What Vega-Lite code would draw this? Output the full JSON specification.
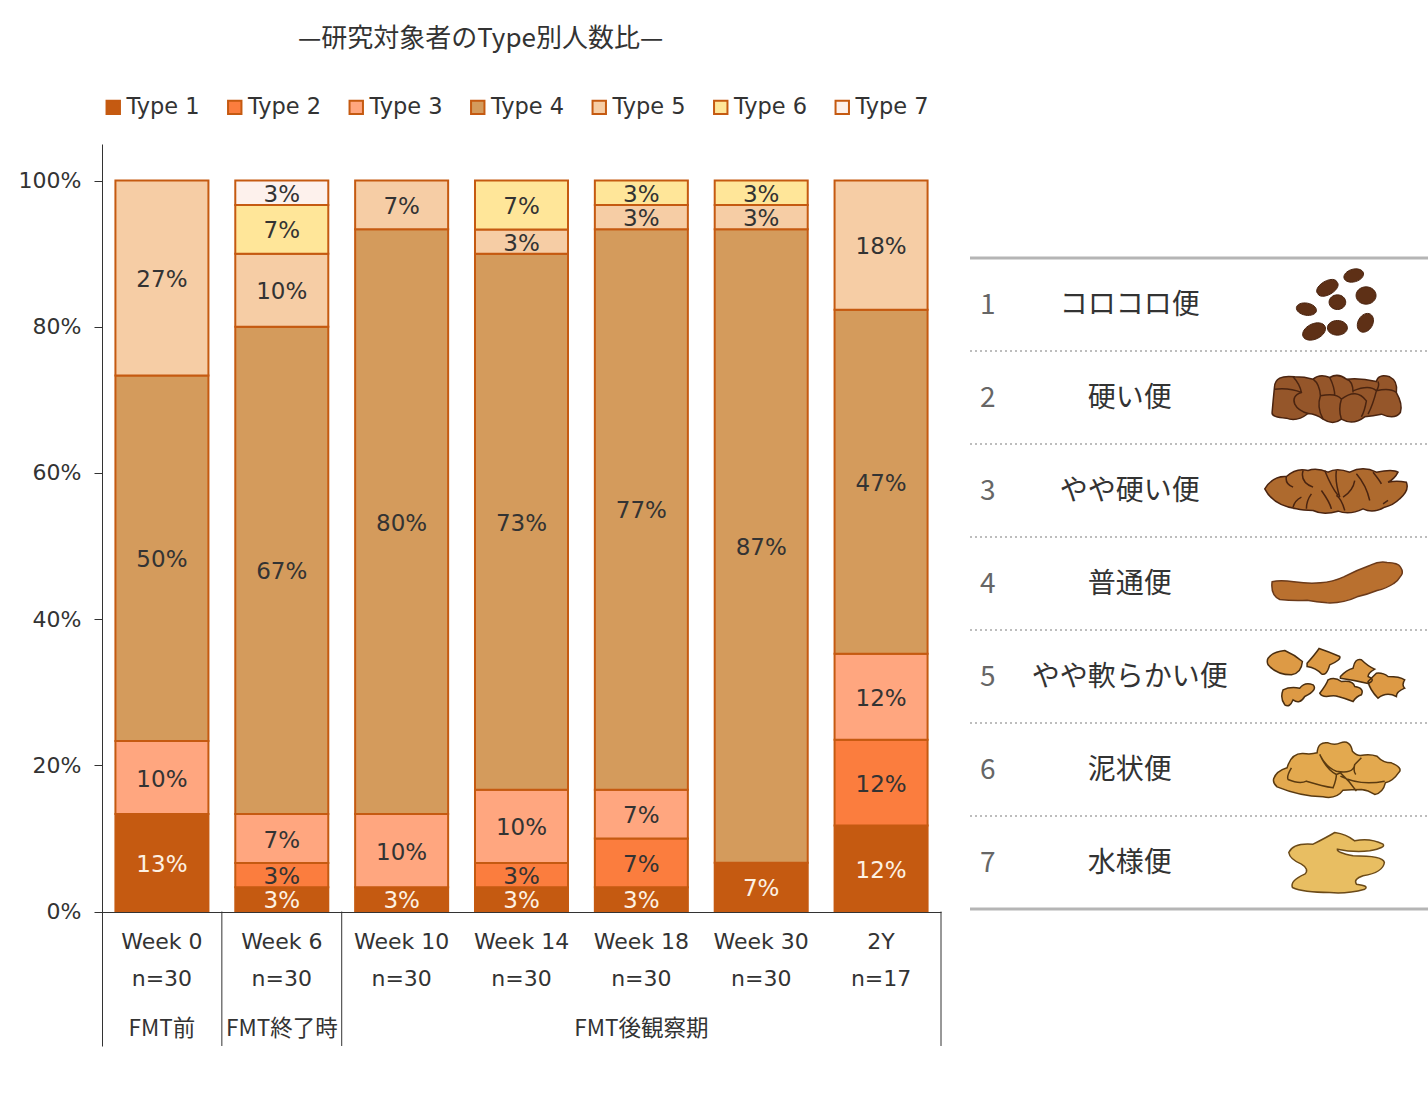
{
  "$schema": "https://vega.github.io/schema/vega-lite/v6.json",
  "width": 1326,
  "height": 953,
  "autosize": {"type": "none"},
  "padding": {"left": 102, "top": 144, "right": 0, "bottom": 0},
  "background": "white",
  "title": {
    "text": "—研究対象者のType別人数比—",
    "anchor": "start",
    "frame": "group",
    "dx": 196,
    "offset": 44,
    "font": "Noto Sans CJK JP",
    "fontSize": 26,
    "fontWeight": "normal",
    "color": "#333333"
  },
  "config": {"view": {"stroke": null}},
  "datasets": {
    "shares": [
      {"period": "Week 0", "type": "Type 1", "share": 0.1333},
      {"period": "Week 0", "type": "Type 3", "share": 0.1},
      {"period": "Week 0", "type": "Type 4", "share": 0.5},
      {"period": "Week 0", "type": "Type 5", "share": 0.2667},
      {"period": "Week 6", "type": "Type 1", "share": 0.0333},
      {"period": "Week 6", "type": "Type 2", "share": 0.0333},
      {"period": "Week 6", "type": "Type 3", "share": 0.0667},
      {"period": "Week 6", "type": "Type 4", "share": 0.6667},
      {"period": "Week 6", "type": "Type 5", "share": 0.1},
      {"period": "Week 6", "type": "Type 6", "share": 0.0667},
      {"period": "Week 6", "type": "Type 7", "share": 0.0333},
      {"period": "Week 10", "type": "Type 1", "share": 0.0333},
      {"period": "Week 10", "type": "Type 3", "share": 0.1},
      {"period": "Week 10", "type": "Type 4", "share": 0.8},
      {"period": "Week 10", "type": "Type 5", "share": 0.0667},
      {"period": "Week 14", "type": "Type 1", "share": 0.0333},
      {"period": "Week 14", "type": "Type 2", "share": 0.0333},
      {"period": "Week 14", "type": "Type 3", "share": 0.1},
      {"period": "Week 14", "type": "Type 4", "share": 0.7333},
      {"period": "Week 14", "type": "Type 5", "share": 0.0333},
      {"period": "Week 14", "type": "Type 6", "share": 0.0667},
      {"period": "Week 18", "type": "Type 1", "share": 0.0333},
      {"period": "Week 18", "type": "Type 2", "share": 0.0667},
      {"period": "Week 18", "type": "Type 3", "share": 0.0667},
      {"period": "Week 18", "type": "Type 4", "share": 0.7667},
      {"period": "Week 18", "type": "Type 5", "share": 0.0333},
      {"period": "Week 18", "type": "Type 6", "share": 0.0333},
      {"period": "Week 30", "type": "Type 1", "share": 0.0667},
      {"period": "Week 30", "type": "Type 4", "share": 0.8667},
      {"period": "Week 30", "type": "Type 5", "share": 0.0333},
      {"period": "Week 30", "type": "Type 6", "share": 0.0333},
      {"period": "2Y", "type": "Type 1", "share": 0.1176},
      {"period": "2Y", "type": "Type 2", "share": 0.1176},
      {"period": "2Y", "type": "Type 3", "share": 0.1176},
      {"period": "2Y", "type": "Type 4", "share": 0.4706},
      {"period": "2Y", "type": "Type 5", "share": 0.1765}
    ],
    "periods": [
      {"period": "Week 0", "n": "n=30"},
      {"period": "Week 6", "n": "n=30"},
      {"period": "Week 10", "n": "n=30"},
      {"period": "Week 14", "n": "n=30"},
      {"period": "Week 18", "n": "n=30"},
      {"period": "Week 30", "n": "n=30"},
      {"period": "2Y", "n": "n=17"}
    ],
    "phases": [
      {"period": "Week 0", "phase": "FMT前"},
      {"period": "Week 6", "phase": "FMT終了時"},
      {"period": "Week 18", "phase": "FMT後観察期"}
    ],
    "phaseEnds": [
      {"period": "Week 0"},
      {"period": "Week 6"},
      {"period": "2Y"}
    ],
    "stools": [
      {"no": "1", "name": "コロコロ便"},
      {"no": "2", "name": "硬い便"},
      {"no": "3", "name": "やや硬い便"},
      {"no": "4", "name": "普通便"},
      {"no": "5", "name": "やや軟らかい便"},
      {"no": "6", "name": "泥状便"},
      {"no": "7", "name": "水様便"}
    ]
  },
  "layer": [
    {
      "encoding": {
        "x": {
          "field": "period",
          "type": "nominal",
          "scale": {
            "type": "band",
            "domain": ["Week 0", "Week 6", "Week 10", "Week 14", "Week 18", "Week 30", "2Y"],
            "range": [0, 839],
            "paddingInner": 0.224,
            "paddingOuter": 0.112
          },
          "axis": {"labels": false, "ticks": false, "title": null, "domainColor": "#333333", "offset": -185, "zindex": 1}
        }
      },
      "layer": [
        {
          "data": {"name": "shares"},
          "mark": {"type": "bar", "stroke": "#C55A11", "strokeWidth": 2},
          "encoding": {
            "y": {
              "field": "share",
              "type": "quantitative",
              "stack": "zero",
              "scale": {"domain": [-0.1839, 1.05], "range": [902, 0], "nice": false, "zero": false},
              "axis": {
                "values": [0, 0.2, 0.4, 0.6, 0.8, 1],
                "format": ".0%",
                "grid": false,
                "title": null,
                "tickSize": 8,
                "labelPadding": 13,
                "domainColor": "#333333",
                "tickColor": "#333333",
                "labelFont": "DejaVu Sans",
                "labelFontSize": 22,
                "labelColor": "#333333"
              }
            },
            "color": {
              "field": "type",
              "type": "nominal",
              "scale": {
                "domain": ["Type 1", "Type 2", "Type 3", "Type 4", "Type 5", "Type 6", "Type 7"],
                "range": ["#C55A11", "#FB7D3E", "#FFA67F", "#D49B5C", "#F6CDA5", "#FFE699", "#FDF1EC"]
              },
              "legend": {
                "title": null,
                "orient": "none",
                "direction": "horizontal",
                "columns": 7,
                "legendX": 0,
                "legendY": -48,
                "columnPadding": 23.5,
                "symbolType": "square",
                "symbolSize": 180,
                "symbolStrokeColor": "#C55A11",
                "symbolStrokeWidth": 2,
                "labelOffset": 2,
                "labelFont": "DejaVu Sans",
                "labelFontSize": 22.5,
                "labelColor": "#333333"
              }
            },
            "order": {"field": "type", "sort": "ascending"}
          }
        },
        {
          "data": {"name": "shares"},
          "mark": {"type": "text", "font": "DejaVu Sans", "fontSize": 23, "dy": 2},
          "encoding": {
            "y": {"field": "share", "type": "quantitative", "stack": "zero", "bandPosition": 0.5},
            "text": {"field": "share", "type": "quantitative", "format": ".0%"},
            "order": {"field": "type", "sort": "ascending"},
            "color": {"condition": {"test": "datum.type == 'Type 1'", "value": "#FDF1E3"}, "value": "#333333"}
          }
        },
        {
          "data": {"name": "periods"},
          "mark": {"type": "text", "font": "DejaVu Sans", "fontSize": 22, "color": "#333333"},
          "encoding": {
            "y": {"datum": -0.041, "type": "quantitative"},
            "text": {"field": "period"}
          }
        },
        {
          "data": {"name": "periods"},
          "mark": {"type": "text", "font": "DejaVu Sans", "fontSize": 22, "color": "#333333"},
          "encoding": {
            "y": {"datum": -0.0917, "type": "quantitative"},
            "text": {"field": "n"}
          }
        },
        {
          "data": {"name": "phases"},
          "mark": {"type": "text", "font": "Noto Sans CJK JP", "fontSize": 22.5, "color": "#333333"},
          "encoding": {
            "y": {"datum": -0.16, "type": "quantitative"},
            "text": {"field": "phase"}
          }
        },
        {
          "data": {"name": "phaseEnds"},
          "mark": {"type": "rule", "xOffset": 59.93, "color": "#333333", "strokeWidth": 1},
          "encoding": {
            "y": {"datum": 0, "type": "quantitative"},
            "y2": {"datum": -0.1839}
          }
        }
      ]
    },
    {
      "data": {"name": "stools"},
      "encoding": {
        "y": {
          "field": "no",
          "type": "nominal",
          "scale": {"type": "band", "domain": ["1", "2", "3", "4", "5", "6", "7"], "range": [114, 765], "paddingInner": 0, "paddingOuter": 0},
          "axis": null
        },
        "x": {"datum": 0.8, "type": "quantitative", "scale": {"domain": [0, 1], "range": [868, 1326], "nice": false, "zero": false}, "axis": null}
      },
      "layer": [
        {
          "transform": [{"filter": "datum.no != '1'"}],
          "mark": {"type": "rule", "color": "#BDBDBD", "strokeWidth": 2, "strokeDash": [2, 3]},
          "encoding": {
            "y": {"field": "no", "type": "nominal", "bandPosition": 0},
            "x": {"datum": 0, "type": "quantitative"},
            "x2": {"datum": 1}
          }
        },
        {
          "transform": [{"filter": "datum.no == '1'"}],
          "mark": {"type": "rule", "color": "#B5B5B5", "strokeWidth": 3},
          "encoding": {
            "y": {"field": "no", "type": "nominal", "bandPosition": 0},
            "x": {"datum": 0, "type": "quantitative"},
            "x2": {"datum": 1}
          }
        },
        {
          "transform": [{"filter": "datum.no == '7'"}],
          "mark": {"type": "rule", "color": "#B5B5B5", "strokeWidth": 3},
          "encoding": {
            "y": {"field": "no", "type": "nominal", "bandPosition": 1},
            "x": {"datum": 0, "type": "quantitative"},
            "x2": {"datum": 1}
          }
        },
        {
          "mark": {"type": "text", "font": "Noto Sans CJK JP", "fontSize": 28, "color": "#666666", "dy": 1},
          "encoding": {
            "x": {"datum": 0.039, "type": "quantitative"},
            "text": {"field": "no"}
          }
        },
        {
          "mark": {"type": "text", "font": "Noto Sans CJK JP", "fontSize": 28, "color": "#333333", "dy": 1},
          "encoding": {
            "x": {"datum": 0.349, "type": "quantitative"},
            "text": {"field": "name"}
          }
        },
        {
          "transform": [{"filter": "datum.no == '1'"}],
          "mark": {
            "type": "point", "filled": true, "opacity": 1, "size": 0.444,
            "fill": "#5E3016", "stroke": "#4A2410", "strokeWidth": 1,
            "shape": "M23 -79A30 19 -15 1 1 81 -95A30 19 -15 1 1 23 -79ZM-56 -33A34 18 -30 1 1 2 -67A34 18 -30 1 1 -56 -33ZM59 -27A30 26 0 1 1 119 -27A30 26 0 1 1 59 -27ZM-22 -7A25 22 0 1 1 28 -7A25 22 0 1 1 -22 -7ZM-120 9A30 18 10 1 1 -60 19A30 18 10 1 1 -120 9ZM72 81A30 22 -60 1 1 102 29A30 22 -60 1 1 72 81ZM-27 70A30 22 0 1 1 33 70A30 22 0 1 1 -27 70ZM-100 96A36 23 -25 1 1 -34 66A36 23 -25 1 1 -100 96Z"
          }
        },
        {
          "transform": [{"filter": "datum.no == '2'"}],
          "mark": {
            "type": "point", "filled": true, "opacity": 1, "size": 0.444,
            "fill": "#95562A", "stroke": "#4A2410", "strokeWidth": 1.5,
            "shape": "M-186 -30Q-185 -70 -125 -62Q-95 -62 -70 -55Q-50 -72 -20 -60Q5 -75 30 -55Q70 -60 120 -48Q125 -72 160 -62Q185 -50 180 -15Q200 20 192 45Q175 68 135 50Q110 55 85 58Q50 85 15 65Q-10 85 -40 65Q-60 50 -85 48Q-120 75 -150 62Q-195 60 -193 45Q-190 10 -186 -30Z"
          }
        },
        {
          "transform": [{"filter": "datum.no == '2'"}],
          "mark": {
            "type": "point", "filled": false, "opacity": 1, "size": 0.444,
            "stroke": "#4A2410", "strokeWidth": 1.5,
            "shape": "M-186 -25Q-140 -30 -105 -15M-130 -62Q-110 -40 -105 -15Q-135 -5 -125 20Q-115 40 -85 48M-70 -55Q-50 -40 -48 -5M-48 -5Q-60 30 -40 65M-48 -5Q0 -15 15 5Q5 35 15 65M15 5Q60 -30 90 10Q85 40 75 58M-20 -60Q-5 -30 -5 -5M30 -55Q50 -50 50 -15M50 -20Q100 -40 120 -20Q110 20 95 50M120 -20Q160 -30 180 -15M125 -48Q130 -35 120 -20"
          }
        },
        {
          "transform": [{"filter": "datum.no == '3'"}],
          "mark": {
            "type": "point", "filled": true, "opacity": 1, "size": 0.444,
            "fill": "#AE6A2E", "stroke": "#4A2410", "strokeWidth": 1.5,
            "shape": "M-215 -5Q-190 -45 -150 -42Q-120 -70 -85 -60Q-60 -70 -25 -55Q0 -70 40 -55Q80 -75 120 -55Q170 -65 185 -55Q175 -35 155 -25Q180 -30 210 -25Q220 0 190 25Q170 45 145 50Q110 70 80 55Q40 75 5 62Q-40 75 -70 60Q-100 60 -120 55Q-190 45 -215 -5Z"
          }
        },
        {
          "transform": [{"filter": "datum.no == '3'"}],
          "mark": {
            "type": "point", "filled": false, "opacity": 1, "size": 0.444,
            "stroke": "#4A2410", "strokeWidth": 1.5,
            "shape": "M-150 -42Q-155 -20 -130 -10M-100 -60Q-110 -25 -70 -10M-130 50Q-125 30 -105 20M-90 55Q-90 30 -75 10M-35 -60Q-15 -10 5 15M0 15Q15 25 25 60M0 -60Q-5 -30 10 20M20 20Q50 0 55 -30M60 -50Q90 -15 100 30M-45 0Q-20 35 -15 55M110 -55Q130 -30 135 -20M140 40L155 30"
          }
        },
        {
          "transform": [{"filter": "datum.no == '4'"}],
          "mark": {
            "type": "point", "filled": true, "opacity": 1, "size": 0.444,
            "fill": "#B9702F", "stroke": "#6B3A1A", "strokeWidth": 1.5,
            "shape": "M-193 -5Q-170 -12 -128 -5Q-80 2 -48 -2Q-10 -5 22 -20Q60 -40 102 -55Q130 -68 152 -63Q185 -62 192 -50Q202 -35 195 -25Q185 -8 172 0Q150 15 122 21Q95 32 62 40Q20 60 -28 58Q-60 55 -88 50Q-130 52 -170 48Q-198 35 -193 -5Z"
          }
        },
        {
          "transform": [{"filter": "datum.no == '5'"}],
          "mark": {
            "type": "point", "filled": true, "opacity": 1, "size": 0.444,
            "fill": "#DD9A45", "stroke": "#4A2E10", "strokeWidth": 1.5,
            "shape": "M-205 -55Q-190 -75 -155 -78Q-125 -65 -102 -45Q-105 -10 -135 -5Q-180 -5 -205 -35Q-210 -45 -205 -55ZM-88 -40Q-65 -65 -52 -84Q-25 -75 10 -60Q15 -50 -20 -35Q-30 0 -45 -8Q-60 -25 -88 -30ZM12 0Q30 -20 50 -25Q55 -55 75 -50Q95 -30 115 -22Q95 -10 95 0Q120 10 95 21Q50 10 12 5ZM95 15Q110 0 120 -10Q140 -12 155 0Q190 0 205 10Q195 25 205 35Q180 45 180 60Q150 45 125 65Q100 40 95 15ZM-160 40Q-140 30 -110 35Q-95 15 -70 25Q-55 40 -95 60Q-110 85 -130 70Q-140 95 -155 85Q-170 65 -160 40ZM-50 50Q-30 25 -25 10Q-5 0 15 15Q50 10 55 30Q85 35 75 55Q60 60 50 75Q25 65 5 60Q-5 55 -30 60Q-45 60 -50 50Z"
          }
        },
        {
          "transform": [{"filter": "datum.no == '6'"}],
          "mark": {
            "type": "point", "filled": true, "opacity": 1, "size": 0.444,
            "fill": "#E3A94F", "stroke": "#5A3A10", "strokeWidth": 1.5,
            "shape": "M-188 27Q-180 5 -148 -5Q-135 -50 -100 -48Q-75 -45 -58 -50Q-55 -85 -25 -80Q-5 -72 12 -80Q42 -90 48 -55Q60 -42 72 -42Q100 -48 122 -40Q140 -20 165 -20Q200 -5 188 8Q170 35 147 40Q140 70 115 75Q95 62 75 60Q45 60 20 62Q0 90 -40 82Q-110 80 -178 52Q-192 40 -188 27Z"
          }
        },
        {
          "transform": [{"filter": "datum.no == '6'"}],
          "mark": {
            "type": "point", "filled": false, "opacity": 1, "size": 0.444,
            "stroke": "#5A3A10", "strokeWidth": 1.5,
            "shape": "M-135 -5Q-150 20 -145 30Q-110 45 -90 35Q-40 50 -10 55Q0 30 0 15Q-30 0 -50 -45M-50 -45Q-30 -5 0 5Q50 15 55 -15L75 -35M0 15L12 10Q40 35 60 65M12 20Q70 50 145 35M55 -15Q50 5 58 15"
          }
        },
        {
          "transform": [{"filter": "datum.no == '7'"}],
          "mark": {
            "type": "point", "filled": true, "opacity": 1, "size": 0.444,
            "fill": "#E8BE62", "stroke": "#6B4A18", "strokeWidth": 1.5,
            "shape": "M-143 -30Q-130 -60 -70 -55Q-30 -75 -5 -90Q30 -85 55 -65Q100 -75 140 -55Q150 -45 100 -35Q50 -30 3 -40Q0 -30 50 -20Q140 -20 144 0Q140 30 80 40Q50 50 60 65Q100 70 85 80Q30 95 -20 90Q-100 90 -132 75Q-140 55 -95 35Q-80 20 -105 5Q-140 -10 -143 -30Z"
          }
        }
      ]
    }
  ],
  "resolve": {
    "scale": {"x": "independent", "y": "independent"},
    "axis": {"x": "independent", "y": "independent"}
  }
}
